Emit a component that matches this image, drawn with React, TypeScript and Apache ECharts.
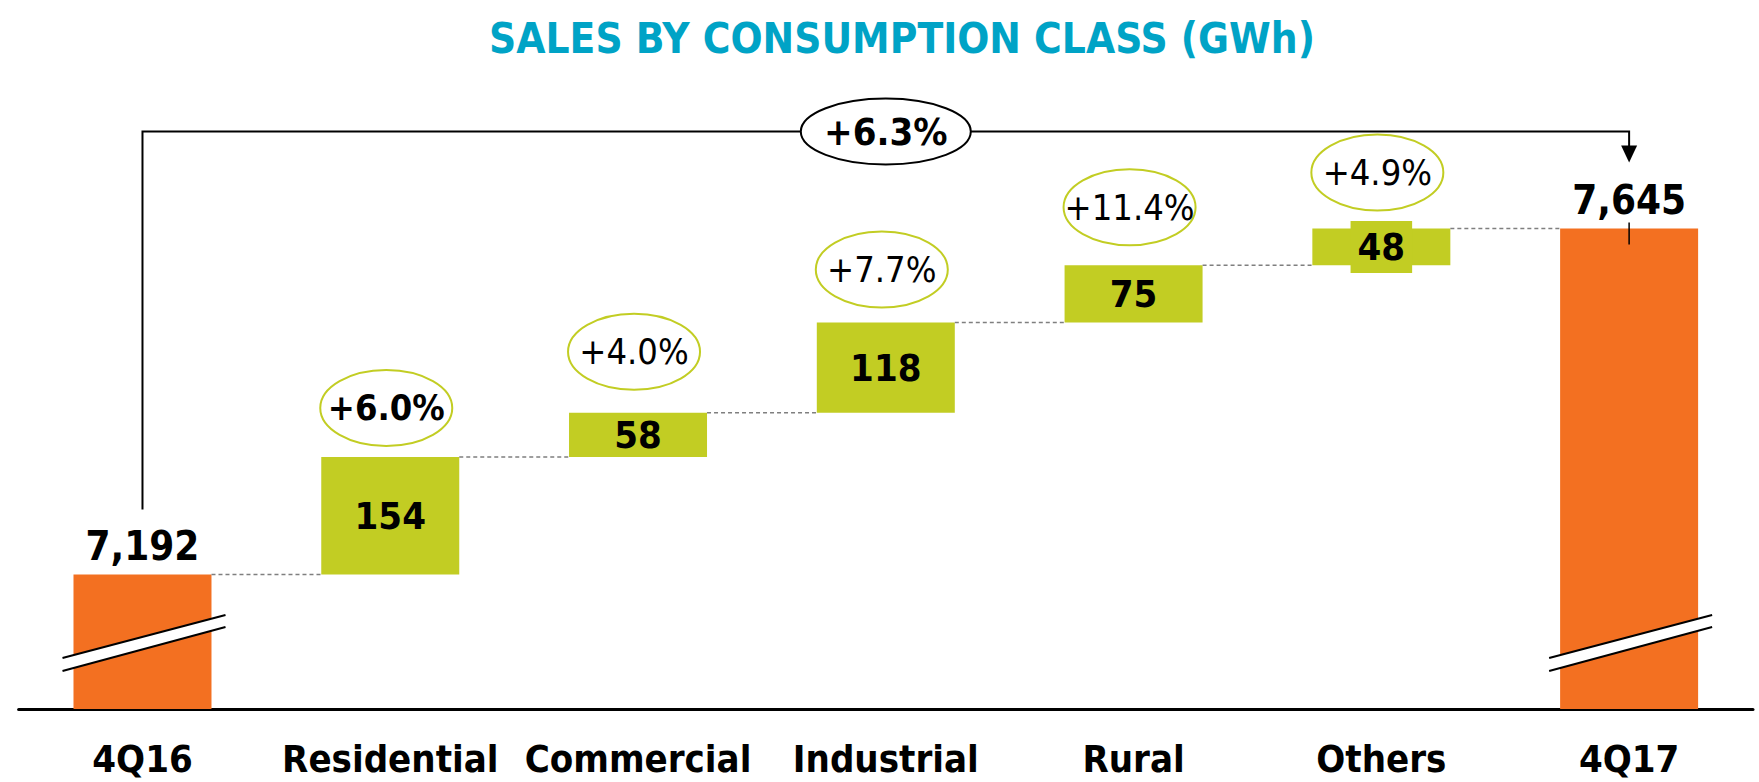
import React, { useEffect, useRef } from "react";
import * as echarts from "echarts";

// ---------- data ----------
const categories = ["4Q16", "Residential", "Commercial", "Industrial", "Rural", "Others", "4Q17"];
const startTotal = 7192;
const deltas = [154, 58, 118, 75, 48];
const endTotal = 7645;
const deltaPct = ["+6.0%", "+4.0%", "+7.7%", "+11.4%", "+4.9%"];
const totalPct = "+6.3%";

// ---------- layout / style constants ----------
const ORANGE = "#F37021";
const GREEN = "#C2CD23";
const TITLE_COLOR = "#00A3C6";
const FONT = "'DejaVu Sans Condensed', 'DejaVu Sans', sans-serif";
const Y_MIN = 7016;
const Y_MAX = 7816;
const BAR_W = 138;
const pctLift = [49, 61, 53, 58, 56];
const pctBold = [true, false, false, false, false];

export default function App() {
  const ref = useRef<HTMLDivElement>(null);

  useEffect(() => {
    if (!ref.current) return;
    const chart = echarts.init(ref.current, null, { renderer: "svg" });

    const values = [startTotal, ...deltas, endTotal];
    const bases: number[] = [0];
    let run = startTotal;
    deltas.forEach((d) => {
      bases.push(run);
      run += d;
    });
    bases.push(0);
    const tops = values.map((v, i) => (i === 0 || i === values.length - 1 ? v : bases[i] + v));

    const isTotal = (i: number) => i === 0 || i === values.length - 1;

    const mainData = values.map((v, i) => {
      const item: any = {
        value: v,
        itemStyle: { color: isTotal(i) ? ORANGE : GREEN },
      };
      if (isTotal(i)) {
        item.label = {
          show: true,
          position: "top",
          distance: 9,
          formatter: () => v.toLocaleString("en-US"),
          fontSize: 40,
          fontWeight: "bold",
          fontFamily: FONT,
          color: "#000",
        };
      } else {
        item.label = {
          show: true,
          position: "inside",
          formatter: String(v),
          fontSize: 38,
          lineHeight: 38,
          fontWeight: "bold",
          fontFamily: FONT,
          color: "#000",
        };
        if (v < 50) {
          item.label.backgroundColor = GREEN;
          item.label.padding = [7, 7];
        }
      }
      return item;
    });

    const option: any = {
      animation: false,
      title: {
        text: "SALES BY CONSUMPTION CLASS (GWh)",
        left: 897,
        textAlign: "center",
        top: 12,
        textStyle: { fontSize: 42, fontWeight: "bold", color: TITLE_COLOR, fontFamily: FONT },
      },
      grid: { left: 18.6, right: 6, top: 98, bottom: 73, containLabel: false },
      xAxis: {
        type: "category",
        data: categories,
        axisLine: { lineStyle: { color: "#000", width: 3 } },
        axisTick: { show: false },
        axisLabel: {
          fontSize: 38,
          fontWeight: "bold",
          fontFamily: FONT,
          color: "#000",
          margin: 31,
          interval: 0,
        },
        splitLine: { show: false },
      },
      yAxis: {
        type: "value",
        min: Y_MIN,
        max: Y_MAX,
        show: false,
        splitLine: { show: false },
      },
      series: [
        {
          type: "bar",
          stack: "w",
          barWidth: BAR_W,
          silent: true,
          itemStyle: { color: "transparent" },
          data: bases,
        },
        {
          type: "bar",
          stack: "w",
          barWidth: BAR_W,
          data: mainData,
        },
      ],
    };
    chart.setOption(option);

    const px = (i: number, v: number) => chart.convertToPixel({ gridIndex: 0 }, [i, v]) as number[];
    const half = BAR_W / 2;
    const elems: any[] = [];
    const last = values.length - 1;

    // dashed connectors
    for (let i = 0; i < last; i++) {
      const [xa, ya] = px(i, tops[i]);
      const [xb] = px(i + 1, tops[i]);
      elems.push({
        type: "line",
        z: 10,
        shape: { x1: xa + half, y1: ya, x2: xb - half, y2: ya },
        style: { stroke: "#7f7f7f", lineWidth: 1.5, lineDash: [4, 3] },
      });
    }

    // axis-break marks on total bars
    const axisY = px(0, Y_MIN)[1];
    [0, last].forEach((i) => {
      const cx = px(i, Y_MIN)[0];
      elems.push({
        type: "polygon",
        z: 10,
        shape: {
          points: [
            [cx - 80, axisY - 51],
            [cx + 83, axisY - 94],
            [cx + 83, axisY - 82],
            [cx - 80, axisY - 38],
          ],
        },
        style: { fill: "#fff" },
      });
      elems.push({
        type: "line",
        z: 11,
        shape: { x1: cx - 80, y1: axisY - 51, x2: cx + 83, y2: axisY - 94 },
        style: { stroke: "#000", lineWidth: 2 },
      });
      elems.push({
        type: "line",
        z: 11,
        shape: { x1: cx - 80, y1: axisY - 38, x2: cx + 83, y2: axisY - 82 },
        style: { stroke: "#000", lineWidth: 2 },
      });
    });

    // percentage ellipses
    deltaPct.forEach((t, k) => {
      const i = k + 1;
      const [x, y] = px(i, tops[i]);
      const cx = x - 4;
      const cy = y - pctLift[k];
      elems.push({
        type: "ellipse",
        z: 10,
        shape: { cx, cy, rx: 66, ry: 38 },
        style: { fill: "#fff", stroke: GREEN, lineWidth: 2 },
      });
      elems.push({
        type: "text",
        z: 11,
        style: {
          text: t,
          x: cx,
          y: cy,
          align: "center",
          verticalAlign: "middle",
          fill: "#000",
          fontSize: 36,
          fontWeight: pctBold[k] ? "bold" : "normal",
          fontFamily: FONT,
        },
      });
    });

    // overall bracket with arrow
    const [x0, y0] = px(0, startTotal);
    const [x1, y1] = px(last, endTotal);
    const yTop = y1 - 97;
    elems.push({
      type: "polyline",
      z: 10,
      shape: { points: [[x0, y0 - 65], [x0, yTop], [x1, yTop], [x1, yTop + 16]] },
      style: { stroke: "#000", lineWidth: 2, fill: "none" },
    });
    elems.push({
      type: "polygon",
      z: 10,
      shape: { points: [[x1 - 8, yTop + 14], [x1 + 8, yTop + 14], [x1, yTop + 31]] },
      style: { fill: "#000" },
    });
    elems.push({
      type: "line",
      z: 11,
      shape: { x1: x1, y1: y1 - 6, x2: x1, y2: y1 + 16 },
      style: { stroke: "#000", lineWidth: 1.5 },
    });
    const mx = (x0 + x1) / 2;
    elems.push({
      type: "ellipse",
      z: 11,
      shape: { cx: mx, cy: yTop, rx: 85, ry: 33 },
      style: { fill: "#fff", stroke: "#000", lineWidth: 2 },
    });
    elems.push({
      type: "text",
      z: 12,
      style: {
        text: totalPct,
        x: mx,
        y: yTop,
        align: "center",
        verticalAlign: "middle",
        fill: "#000",
        fontSize: 38,
        fontWeight: "bold",
        fontFamily: FONT,
      },
    });

    chart.setOption({ graphic: elems });

    return () => chart.dispose();
  }, []);

  return (
    <div
      ref={ref}
      style={{ position: "fixed", left: 0, top: 0, width: 1759, height: 782, background: "#fff" }}
    />
  );
}
